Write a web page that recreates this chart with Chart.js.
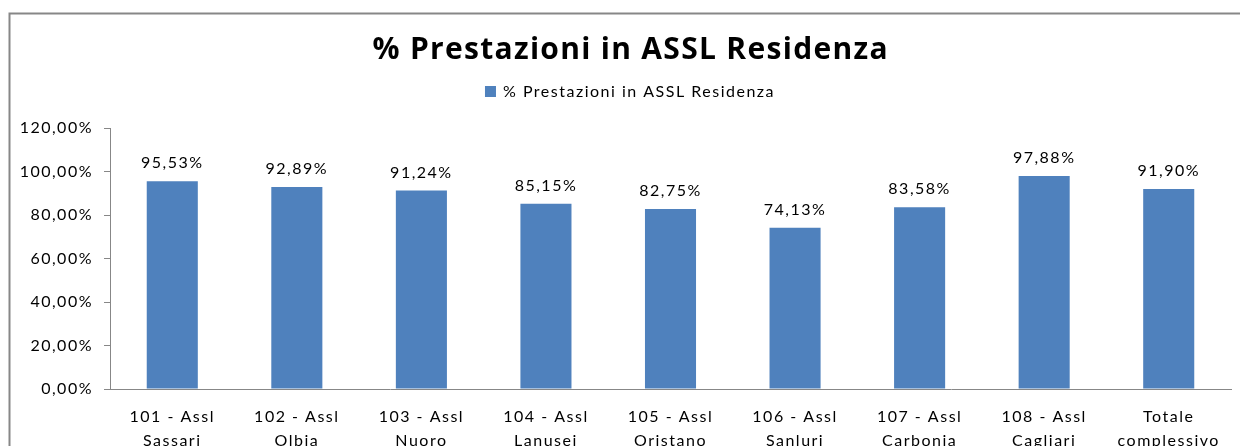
<!DOCTYPE html>
<html><head><meta charset="utf-8">
<script src="https://cdn.jsdelivr.net/npm/chart.js@4/dist/chart.umd.min.js"></script>
<style>
html,body{margin:0;padding:0;overflow:hidden;background:#fff;width:1240px;height:446px}
canvas{display:block}
</style></head>
<body>
<canvas id="c" width="1252" height="475" style="width:1252px;height:475px"></canvas>
<script>
const chartTitle = '% Prestazioni in ASSL Residenza';
const seriesName = '% Prestazioni in ASSL Residenza';
const categories = [
  ['101 - Assl','Sassari'], ['102 - Assl','Olbia'], ['103 - Assl','Nuoro'],
  ['104 - Assl','Lanusei'], ['105 - Assl','Oristano'], ['106 - Assl','Sanluri'],
  ['107 - Assl','Carbonia'], ['108 - Assl','Cagliari'], ['Totale','complessivo']
];
const values = [95.53, 92.89, 91.24, 85.15, 82.75, 74.13, 83.58, 97.88, 91.90];
const yMin = 0, yMax = 120, yStep = 20;
const fmt = v => Number(v).toFixed(2).replace('.', ',') + '%';

const SPACING = '1.5px';
const deco = {
  id: 'deco',
  beforeUpdate(chart) { chart.ctx.letterSpacing = SPACING; },
  beforeDraw(chart) {
    const ctx = chart.ctx;
    ctx.save();
    ctx.fillStyle = '#fff';
    ctx.fillRect(0, 0, chart.width, chart.height);
    ctx.strokeStyle = '#878787';
    ctx.lineWidth = 2;
    ctx.strokeRect(9.5, 13.5, chart.width + 40, chart.height + 40);
    ctx.restore();
    ctx.letterSpacing = SPACING;
  },
  afterDatasetsDraw(chart) {
    const ctx = chart.ctx;
    const meta = chart.getDatasetMeta(0);
    ctx.save();
    ctx.letterSpacing = SPACING;
    ctx.font = '16px Lato';
    ctx.fillStyle = '#000';
    ctx.textAlign = 'center';
    ctx.textBaseline = 'middle';
    meta.data.forEach((bar, i) => {
      ctx.fillText(fmt(chart.data.datasets[0].data[i]), bar.x, bar.y - 18);
    });
    ctx.restore();
  },
  afterDraw(chart) {
    const ctx = chart.ctx;
    ctx.save();
    const cx = 630;
    ctx.letterSpacing = '1.3px';
    ctx.font = 'bold 30px "Open Sans"';
    ctx.fillStyle = '#000';
    ctx.textAlign = 'center';
    ctx.textBaseline = 'alphabetic';
    ctx.fillText(chartTitle, cx + 0.65, 59);
    ctx.letterSpacing = SPACING;
    ctx.font = '16px Lato';
    const tw = ctx.measureText(seriesName).width;
    const box = 11, gap = 7;
    const x = cx - (box + gap + tw) / 2;
    ctx.fillStyle = '#4F81BD';
    ctx.fillRect(x, 86, box, box);
    ctx.fillStyle = '#000';
    ctx.textAlign = 'left';
    ctx.fillText(seriesName, x + box + gap, 97);
    ctx.restore();
  }
};

new Chart(document.getElementById('c'), {
  type: 'bar',
  data: {
    labels: categories,
    datasets: [{
      label: seriesName,
      data: values,
      backgroundColor: '#4F81BD',
      borderWidth: 0,
      barPercentage: 0.41,
      categoryPercentage: 1.0
    }]
  },
  options: {
    responsive: false,
    animation: false,
    layout: { padding: { left: 10, right: 21, top: 128, bottom: 26 } },
    plugins: { legend: { display: false }, title: { display: false }, tooltip: { enabled: false } },
    scales: {
      x: {
        grid: { display: false, drawTicks: false },
        border: { display: true, color: '#878787', width: 1 },
        ticks: { color: '#000', font: { family: 'Lato', size: 16, lineHeight: 1.5 }, padding: 16, maxRotation: 0, autoSkip: false },
        afterFit(s) { s.height = 60; }
      },
      y: {
        min: yMin, max: yMax,
        ticks: { stepSize: yStep, callback: v => fmt(v), color: '#000', font: { family: 'Lato', size: 16 }, padding: 11 },
        grid: { drawOnChartArea: false, tickLength: 6, color: '#878787' },
        border: { color: '#878787', width: 1 },
        afterFit(s) { s.width = 100; }
      }
    }
  },
  plugins: [deco]
});
</script>
</body></html>
